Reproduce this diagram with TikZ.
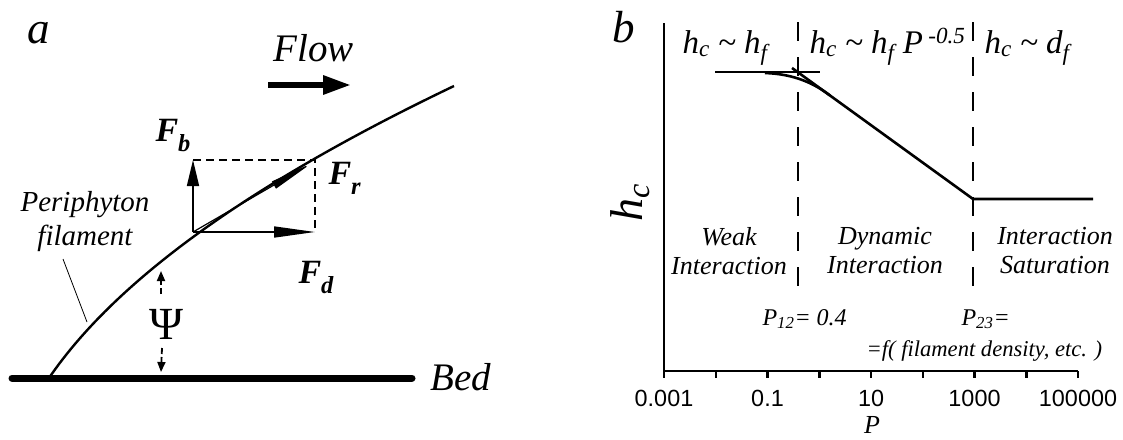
\documentclass[tikz,border=0pt]{standalone}
\usepackage{fontspec}
\setmainfont{Liberation Serif}
\newfontfamily\arialfont{Liberation Sans}
\usetikzlibrary{arrows.meta}
\newcommand\lowsub[1]{\raisebox{-0.3em}{\scalebox{0.72}{#1}}}

\begin{document}
\begin{tikzpicture}[x=1pt,y=-1pt,
  panel/.style={font=\fontsize{45}{47}\selectfont\itshape},
  bigtxt/.style={font=\fontsize{39}{42}\selectfont\itshape},
  force/.style={font=\fontsize{34}{36}\selectfont\bfseries\itshape},
  region/.style={font=\fontsize{26}{29}\selectfont\itshape,align=center},
  regime/.style={font=\fontsize{33}{35}\selectfont\itshape},
  crit/.style={font=\fontsize{24}{26}\selectfont\itshape},
  ticklbl/.style={font=\fontsize{23.4}{25}\selectfont\arialfont},
  vec/.style={line width=1.6pt},
  boundary/.style={line width=2pt,dash pattern=on 19pt off 16pt},
  curve/.style={line width=2.6pt}]
\useasboundingbox (0,0) rectangle (1123,439);

% panel a
\node[panel,anchor=base] (lbla) at (39,43) {a};
\node[bigtxt,anchor=base west] (flow) at (270,61) {Flow};
\coordinate (flowL) at (268,85);
\coordinate (flowR) at (351,85);
\draw[line width=6pt,-{Triangle[length=28pt,width=18pt]}] (flowL) -- (flowR);

\coordinate (bedL) at (12,378);
\coordinate (bedR) at (412,378);
\draw[line width=7pt,line cap=round] (bedL) -- (bedR);
\node[bigtxt,anchor=base west] (bed) at (427,390) {Bed};

\coordinate (root) at (49,378);
\coordinate (tip) at (454,86);
\draw[curve,line width=2.4pt] (root) .. controls (116,280) and (251,183) .. (tip);

\coordinate (O) at (193,232);
\coordinate (Fbtip) at (193,160);
\coordinate (Fdtip) at (315,232);
\coordinate (corner) at (315,160);
\coordinate (Frtip) at (312,163);
\draw[line width=1.3pt,dash pattern=on 8pt off 5pt] (Fbtip) -- (corner) -- (Fdtip);
\draw[vec,-{Triangle[length=26pt,width=12pt]}] (O) -- (Fbtip);
\draw[vec,-{Triangle[length=41pt,width=11pt]}] (O) -- (Fdtip);
\draw[line width=1.2pt,-{Triangle[length=44pt,width=8pt]}] (O) -- (Frtip);
\node[force,anchor=base west] (Fb) at (152,141) {F\lowsub{b}};
\node[force,anchor=base west] (Fr) at (325,184) {F\lowsub{r}};
\node[force,anchor=base west] (Fd) at (295,283) {F\lowsub{d}};

\node[font=\fontsize{29}{34}\selectfont\itshape,align=center] (peri) at (85,222) {Periphyton\\filament};
\coordinate (leadA) at (63,259);
\coordinate (leadB) at (87,322);
\draw[line width=0.8pt] (leadA) -- (leadB);

\node[font=\fontsize{46}{48}\selectfont,anchor=base] (psi) at (166,339) {Ψ};
\coordinate (psiA) at (161,294);
\coordinate (psitop) at (161,271);
\coordinate (psiB) at (162,348);
\coordinate (psibot) at (161,372);
\draw[line width=1.8pt,dash pattern=on 6pt off 3pt,-{Triangle[length=10pt,width=8pt]}] (psiA) -- (psitop);
\draw[line width=1.8pt,dash pattern=on 6pt off 3pt,-{Triangle[length=10pt,width=8pt]}] (psiB) -- (psibot);

% panel b
\node[panel,anchor=base] (lblb) at (624,42) {b};
\coordinate (ytop) at (664,23);
\coordinate (orig) at (664,371);
\coordinate (xend) at (1078,371);
\draw[line width=2.5pt] (ytop) -- (orig) -- (xend);
\foreach \i in {0,...,8}
  \draw[line width=2.5pt] (664+51.75*\i,371) -- (664+51.75*\i,378);
\foreach \v [count=\k from 0] in {0.001,0.1,10,1000,100000}
  \node[ticklbl,anchor=base] (tick\k) at (664+103.5*\k,406) {\v};
\node[font=\fontsize{26}{28}\selectfont\itshape,anchor=base] (xlbl) at (872,433) {P};
\node[font=\fontsize{46}{48}\selectfont\itshape,rotate=90] (ylbl) at (630,203) {h\textsubscript{c}};

\coordinate (b12top) at (798,22);
\coordinate (b12bot) at (798,295);
\coordinate (b23top) at (973,22);
\coordinate (b23bot) at (973,295);
\draw[boundary] (b12top) -- (b12bot);
\draw[boundary] (b23top) -- (b23bot);

\node[regime,anchor=base west] (reg1) at (679,53) {h\textsubscript{c} \textasciitilde{} h\textsubscript{f}};
\node[regime,anchor=base west] (reg2) at (806,53) {h\textsubscript{c} \textasciitilde{} h\textsubscript{f} P\,\textsuperscript{-0.5}};
\node[regime,anchor=base west] (reg3) at (981,53) {h\textsubscript{c} \textasciitilde{} d\textsubscript{f}};

\coordinate (flatL) at (715,72);
\coordinate (flatR) at (820,72);
\coordinate (slopeA) at (792,68);
\coordinate (knee) at (973,199);
\coordinate (satR) at (1093,199);
\coordinate (bendA) at (765,73);
\coordinate (bendB) at (830,95.5);
\draw[curve] (flatL) -- (flatR);
\draw[curve] (slopeA) -- (knee) -- (satR);
\draw[curve] (bendA) .. controls (795,74) and (815,84) .. (bendB);

\node[region] (weak) at (729,251) {Weak\\Interaction};
\node[region] (dyn) at (885,251) {Dynamic\\Interaction};
\node[region] (sat) at (1055,251) {Interaction\\Saturation};

\node[crit,anchor=base west] (p12) at (759,325) {P\textsubscript{12}= 0.4};
\node[crit,anchor=base west] (p23) at (958,325) {P\textsubscript{23}=};
\node[font=\fontsize{22.6}{24}\selectfont\itshape,anchor=base west] (p23f) at (863,356) {=f( filament density, etc. )};
\end{tikzpicture}
\end{document}
